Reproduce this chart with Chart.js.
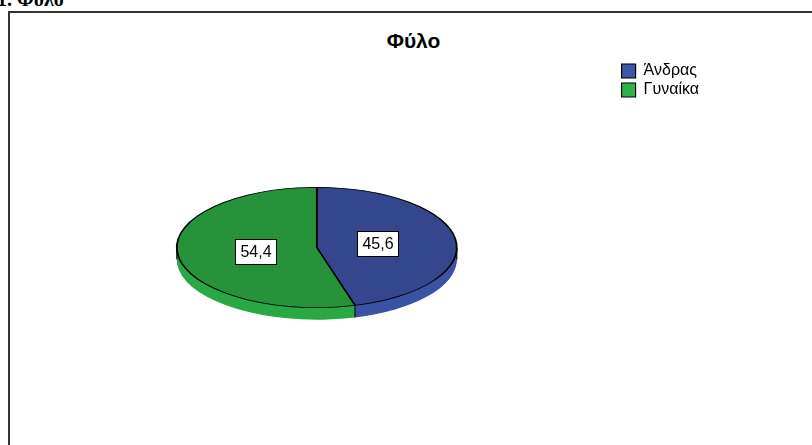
<!DOCTYPE html>
<html>
<head>
<meta charset="utf-8">
<script src="https://cdn.jsdelivr.net/npm/chart.js@4"></script>
<style>
  body { margin: 0; width: 812px; height: 445px; overflow: hidden; background: #fff; position: relative; }
  #heading { position: absolute; left: -3px; top: -11px; font: bold 20px/20px "Liberation Serif", serif; white-space: nowrap; }
  #frame { position: absolute; left: 8px; top: 11px; width: 830px; height: 460px; border: 2px solid #333; }
  #title { position: absolute; left: 0; width: 827px; top: 30px; text-align: center; font: bold 21px/22px "Liberation Sans", Arial, sans-serif; }
  #c { position: absolute; left: 0; top: 0; }
</style>
</head>
<body>
<div id="heading">1. Φύλο</div>
<div id="frame"></div>
<div id="title">Φύλο</div>
<canvas id="c" width="812" height="445"></canvas>
<script>
const categories = ['Άνδρας', 'Γυναίκα'];
const percentages = [45.6, 54.4];

const topColors = ['#34478d', '#26933b'];
const sideColors = ['#3a53a4', '#2aa845'];
const legendColors = ['#3b57a8', '#2db24a'];

const TILT = 0.43;      // vertical squash of the pie
const DEPTH = 12;       // thickness of the pie side
const LABEL_POS = 0.44; // label distance from centre, share of radius

function squash(ctx, cx, cy, dy) {
    ctx.translate(cx, cy + dy);
    ctx.scale(1, TILT);
    ctx.translate(-cx, -cy);
}

const tiltPlugin = {
    id: 'tilt',
    beforeDatasetsDraw(chart) {
        const ctx = chart.ctx;
        const arcs = chart.getDatasetMeta(0).data;
        const { x, y, outerRadius: r } = arcs[0];

        for (let d = DEPTH; d >= 1; d--) {
            ctx.save();
            squash(ctx, x, y, d);
            arcs.forEach((arc, i) => {
                ctx.beginPath();
                ctx.moveTo(arc.x, arc.y);
                ctx.arc(arc.x, arc.y, arc.outerRadius, arc.startAngle, arc.endAngle);
                ctx.closePath();
                ctx.fillStyle = sideColors[i];
                ctx.fill();
            });
            ctx.restore();
        }

        // edges on the side wall
        ctx.save();
        ctx.strokeStyle = '#111';
        ctx.lineWidth = 1.2;
        const edges = arcs.map(a => a.startAngle);
        edges.forEach(a => {
            if (Math.sin(a) <= 0) return;
            const px = x + Math.cos(a) * r;
            const py = y + Math.sin(a) * r * TILT;
            ctx.beginPath();
            ctx.moveTo(px, py);
            ctx.lineTo(px, py + DEPTH);
            ctx.stroke();
        });
        [-1, 1].forEach(s => {
            ctx.beginPath();
            ctx.moveTo(x + s * r, y);
            ctx.lineTo(x + s * r, y + DEPTH);
            ctx.stroke();
        });
        ctx.restore();

        ctx.save();
        squash(ctx, x, y, 0);
    },
    afterDatasetsDraw(chart) {
        const ctx = chart.ctx;
        ctx.restore();

        const arcs = chart.getDatasetMeta(0).data;
        const values = chart.data.datasets[0].data;
        ctx.save();
        ctx.font = '16px "Liberation Sans", Arial, sans-serif';
        arcs.forEach((arc, i) => {
            const mid = (arc.startAngle + arc.endAngle) / 2;
            const lx = arc.x + Math.cos(mid) * arc.outerRadius * LABEL_POS;
            const ly = arc.y + Math.sin(mid) * arc.outerRadius * LABEL_POS * TILT;
            const txt = values[i].toFixed(1).replace('.', ',');
            const w = Math.round(ctx.measureText(txt).width + 10);
            const h = 25;
            const bx = Math.round(lx - w / 2) + 0.5;
            const by = Math.round(ly - h / 2) + 0.5;
            ctx.fillStyle = '#fff';
            ctx.fillRect(bx, by, w, h);
            ctx.strokeStyle = '#000';
            ctx.lineWidth = 1;
            ctx.strokeRect(bx, by, w, h);
            ctx.fillStyle = '#000';
            ctx.textAlign = 'center';
            ctx.textBaseline = 'middle';
            ctx.fillText(txt, bx + w / 2, by + h / 2 + 1);
        });
        ctx.restore();
    }
};

new Chart(document.getElementById('c'), {
    type: 'pie',
    data: {
        labels: categories,
        datasets: [{
            data: percentages,
            backgroundColor: topColors,
            borderColor: '#000',
            borderWidth: 1.8,
            radius: 140
        }]
    },
    options: {
        responsive: false,
        animation: false,
        events: [],
        layout: { padding: { left: 15, right: 103, top: 60, bottom: 10 } },
        plugins: {
            tooltip: { enabled: false },
            title: { display: false },
            legend: {
                position: 'right',
                align: 'start',
                labels: {
                    boxWidth: 14,
                    boxHeight: 14,
                    padding: 3,
                    color: '#000',
                    font: { family: '"Liberation Sans", Arial, sans-serif', size: 16 },
                    generateLabels(chart) {
                        return Chart.overrides.doughnut.plugins.legend.labels.generateLabels(chart)
                            .map((item, i) => ({ ...item, fillStyle: legendColors[i], strokeStyle: '#000', lineWidth: 1.2 }));
                    }
                }
            }
        }
    },
    plugins: [tiltPlugin]
});
</script>
</body>
</html>
